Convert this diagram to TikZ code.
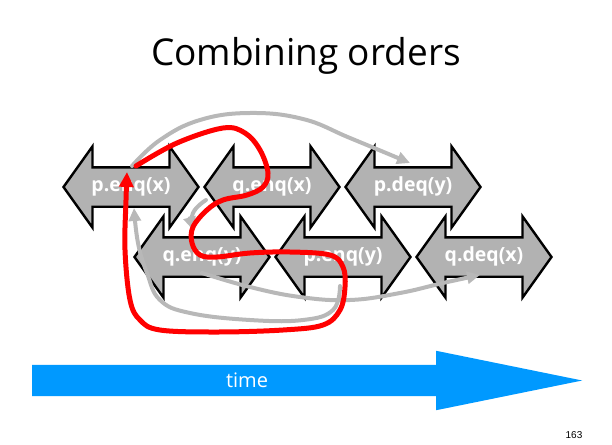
\documentclass[tikz,border=0pt]{standalone}
\usepackage{fontspec}
\setmainfont{Open Sans}
\newfontfamily\pagefont{Liberation Sans}
\usetikzlibrary{arrows.meta, shapes.arrows, positioning}

\definecolor{opgray}{RGB}{178,178,178}
\definecolor{linkgray}{RGB}{184,184,184}
\definecolor{timeblue}{RGB}{0,153,255}

\begin{document}
\begin{tikzpicture}[x=1pt, y=-1pt,
        % Operation intervals: gray double arrows, black border
        op/.style={double arrow, draw=black, line width=2.4pt, fill=opgray,
            double arrow head extend=21pt, double arrow tip angle=109,
            minimum height=135pt, minimum width=79pt,
            inner xsep=0pt, inner ysep=10pt, text height=13pt, text depth=4pt,
            text=white, font=\fontsize{19.5}{19.5}\selectfont\bfseries},
        % Real-time order edges: thick light gray
        orderedge/.style={draw=linkgray, line width=4pt, line cap=round,
            -{Triangle[length=13pt,width=12pt]}},
        % The cycle: thick red
        redloop/.style={draw=red, line width=5pt, line cap=round,
            -{Triangle[length=15pt,width=14pt]}},
        % Time axis
        timearrow/.style={single arrow, fill=timeblue, draw=none,
            minimum height=550pt, minimum width=59pt,
            single arrow head extend=14pt, single arrow tip angle=23,
            inner xsep=0pt, inner ysep=15.5pt, text height=0pt, text depth=0pt},
        ]
        \useasboundingbox (0,0) rectangle (612,444);

        % Column spacing and row y-coordinates (pixels, y downwards)
        \def\colsep{141}
        \def\rowA{187}
        \def\rowB{257}

        % === Title ===
        \node (title) at (306,56) {\fontsize{37}{37}\selectfont Combining orders};

        % === Top row: operations ===
        \node[op] (penqx) at (131,\rowA) {p.enq(x)};
        \node[op] (qenqx) at (131+\colsep,\rowA) {q.enq(x)};
        \node[op] (pdeqy) at (131+2*\colsep,\rowA) {p.deq(y)};

        % === Bottom row: operations ===
        \node[op] (qenqy) at (202,\rowB) {q.enq(y)};
        \node[op] (penqy) at (202+\colsep,\rowB) {p.enq(y)};
        \node[op] (qdeqx) at (202+2*\colsep,\rowB) {q.deq(x)};

        % === Edge end points ===
        \coordinate (g1a) at ([shift={(1,-21)}]penqx.center);
        \coordinate (g1b) at ([shift={(-3,-24)}]pdeqy.center);
        \coordinate (g2a) at ([shift={(-3,29)}]penqy.center);
        \coordinate (g2b) at ([shift={(3,21)}]penqx.center);
        \coordinate (g3a) at ([shift={(0,16)}]qenqy.center);
        \coordinate (g3b) at ([shift={(-4,18)}]qdeqx.center);
        \coordinate (g4a) at ([shift={(-66,13)}]qenqx.center);
        \coordinate (g4b) at ([shift={(-9,-27)}]qenqy.center);
        \coordinate (ra) at ([shift={(5,-21)}]penqx.center);
        \coordinate (rb) at ([shift={(-4,-15)}]penqx.center);

        % === Gray order edges ===
        \draw[orderedge] plot[smooth, tension=0.7] coordinates {(g1a) (160,140) (200,120) (250,113) (303,119) (350,138) (g1b)};
        \draw[orderedge] plot[smooth, tension=0.7] coordinates {(g2a) (333,310) (303,320) (250,320) (190,313) (160,300) (147,273) (138,243) (g2b)};
        \draw[orderedge] plot[smooth, tension=0.7] coordinates {(g3a) (250,287) (300,297) (350,300) (400,293) (443,283) (g3b)};
        \draw[orderedge] plot[smooth, tension=0.8] coordinates {(g4a) (193,213) (g4b)};

        % === Red cycle ===
        \draw[redloop] plot[smooth, tension=0.6] coordinates {(ra) (177,143) (223,128) (245,133) (260,150) (268,173) (263,187) (247,195) (223,200) (207,210) (193,227) (192,243) (200,255) (217,257) (250,253) (290,252) (330,255) (343,267) (345,287) (340,310) (323,325) (283,330) (217,332) (160,330) (140,320) (130,300) (125,250) (126,200) (rb)};

        % === Time axis ===
        \node[timearrow, anchor=tail] (timeline) at (32,380.5) {};
        \node[text=white, font=\fontsize{20}{20}\selectfont] (timelabel) at (247,380) {time};

        % === Slide number ===
        \node[font=\pagefont\fontsize{10}{10}\selectfont] (pagenum) at (574,435) {163};

    \end{tikzpicture}
\end{document}
